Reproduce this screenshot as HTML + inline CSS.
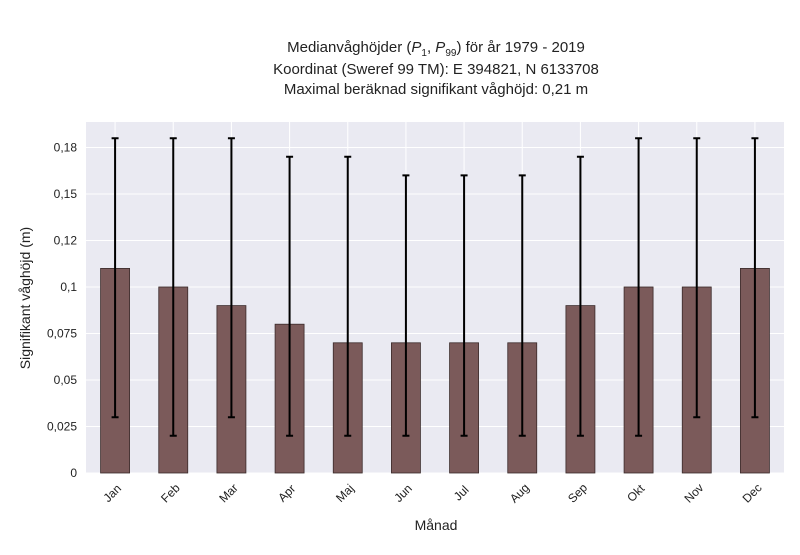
<!DOCTYPE html>
<html><head><meta charset="utf-8"><style>
body{margin:0;background:#fff;font-family:"Liberation Sans",sans-serif;}
svg text{font-family:"Liberation Sans",sans-serif;fill:#222;}
</style></head><body>
<svg id="chart" width="800" height="550" xmlns="http://www.w3.org/2000/svg">
<g>
<text x="436" y="52" font-size="15" text-anchor="middle">Medianvåghöjder (<tspan font-style="italic">P</tspan><tspan font-size="10" dy="4">1</tspan><tspan dy="-4">, </tspan><tspan font-style="italic">P</tspan><tspan font-size="10" dy="4">99</tspan><tspan dy="-4">) för år 1979 - 2019</tspan></text>
<text x="436" y="74" font-size="15" text-anchor="middle">Koordinat (Sweref 99 TM): E 394821, N 6133708</text>
<text x="436" y="94" font-size="15" text-anchor="middle">Maximal beräknad signifikant våghöjd: 0,21 m</text>
</g>
<rect x="86" y="122" width="698" height="351" fill="#eaeaf2"/>
<g id="grid"></g><g id="bars"></g><g id="errs"></g><g id="yticks"></g><g id="xticks"></g>
<text x="436" y="530" font-size="14" text-anchor="middle">Månad</text>
<text transform="translate(30,298) rotate(-90)" font-size="14" text-anchor="middle">Signifikant våghöjd (m)</text>
</svg>
<script>
const months=["Jan","Feb","Mar","Apr","Maj","Jun","Jul","Aug","Sep","Okt","Nov","Dec"];
const medians=[0.11,0.10,0.09,0.08,0.07,0.07,0.07,0.07,0.09,0.10,0.10,0.11];
const p1=[0.03,0.02,0.03,0.02,0.02,0.02,0.02,0.02,0.02,0.02,0.03,0.03];
const p99=[0.18,0.18,0.18,0.17,0.17,0.16,0.16,0.16,0.17,0.18,0.18,0.18];
const yTicks=[0,0.025,0.05,0.075,0.1,0.125,0.15,0.175];
const yLabels=["0","0,025","0,05","0,075","0,1","0,12","0,15","0,18"];
const NS="http://www.w3.org/2000/svg";
const X0=86,W=698,Y0=473,PXU=1860;
const y=v=>Y0-v*PXU;
const step=W/months.length;
const xc=i=>X0+step*(i+0.5);
function mk(t,a,p){const e=document.createElementNS(NS,t);for(const k in a)e.setAttribute(k,a[k]);document.getElementById(p).appendChild(e);return e;}
yTicks.forEach((v,i)=>{
const g=mk("line",{x1:X0,x2:X0+W,y1:y(v),y2:y(v),stroke:"#fff","stroke-width":1},"grid");


const t=mk("text",{x:77,y:y(v)+4,"font-size":12,"text-anchor":"end"},"yticks");
t.textContent=yLabels[i];


});
months.forEach((m,i)=>{
const gl=mk("line",{x1:xc(i),x2:xc(i),y1:122,y2:Y0,stroke:"#fff","stroke-width":1},"grid");


const b=mk("rect",{x:xc(i)-14.5,y:y(medians[i]),width:29,height:y(0)-y(medians[i]),fill:"#7b5a5a",stroke:"#3a2a2a","stroke-width":0.8},"bars");


const e=mk("path",{d:`M${xc(i)},${y(p1[i])}V${y(p99[i])}M${xc(i)-3.5},${y(p1[i])}h7M${xc(i)-3.5},${y(p99[i])}h7`,stroke:"#000","stroke-width":2,fill:"none"},"errs");


const t=mk("text",{x:0,y:0,"font-size":12,"text-anchor":"middle",transform:`translate(${xc(i)},${496}) rotate(-45)`},"xticks");
t.textContent=m;


});
</script>
</body></html>
